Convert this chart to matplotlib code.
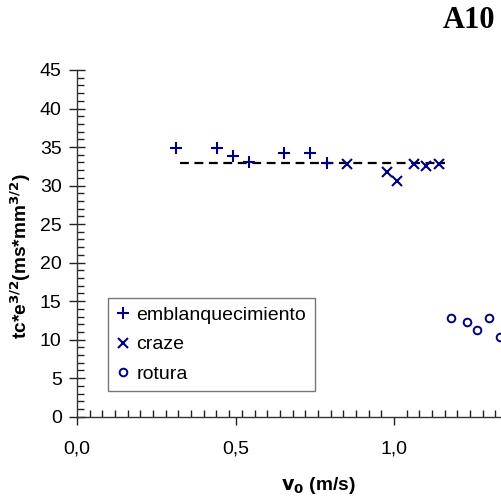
import matplotlib
matplotlib.use("Agg")
import matplotlib.pyplot as plt
from matplotlib.ticker import MultipleLocator, FixedLocator

plt.rcParams['font.family'] = ['Liberation Sans', 'DejaVu Sans']
plt.rcParams['mathtext.default'] = 'regular'

# Data
v_embl = [0.311, 0.443, 0.492, 0.542, 0.653, 0.734, 0.790]
y_embl = [34.9, 34.9, 33.8, 33.1, 34.2, 34.2, 32.9]

v_craze = [0.851, 0.979, 1.010, 1.062, 1.101, 1.142]
y_craze = [32.8, 31.7, 30.6, 32.8, 32.5, 32.8]

v_rot = [1.179, 1.231, 1.261, 1.300, 1.334]
y_rot = [12.85, 12.25, 11.2, 12.85, 10.4]

mean_x = [0.325, 1.16]
mean_y = [32.9, 32.9]

x_major = [0.0, 0.5, 1.0]
x_major_labels = ['0,0', '0,5', '1,0']

navy = '#000080'

fig = plt.figure(figsize=(5.01, 5.03), dpi=100)
xmax = 1.42
ax = fig.add_axes([77/501, 86.3/503, xmax*317/501, 346.7/503])
ax.set_xlim(0, xmax)
ax.set_ylim(0, 45)

ax.plot(mean_x, mean_y, color='black', linestyle=(0, (4, 2.5)), linewidth=1.6, zorder=2)
ax.plot(v_embl, y_embl, linestyle='none', marker='+', markersize=8, markeredgewidth=1.5,
        color=navy, label='emblanquecimiento', zorder=3)
ax.plot(v_craze, y_craze, linestyle='none', marker='x', markersize=7.5, markeredgewidth=1.5,
        color=navy, label='craze', zorder=3)
ax.plot(v_rot, y_rot, linestyle='none', marker='o', markersize=5.5, markeredgewidth=1.4,
        markerfacecolor='none', markeredgecolor=navy, label='rotura', zorder=3)

for s in ['top', 'right']:
    ax.spines[s].set_visible(False)
for s in ['left', 'bottom']:
    ax.spines[s].set_color('#333333')
    ax.spines[s].set_linewidth(1.0)

ax.xaxis.set_major_locator(FixedLocator(x_major))
ax.set_xticklabels(x_major_labels)
ax.xaxis.set_minor_locator(MultipleLocator(0.04))
ax.yaxis.set_major_locator(MultipleLocator(5))
ax.yaxis.set_minor_locator(MultipleLocator(1))

ax.tick_params(axis='y', which='major', direction='inout', length=12, width=1, color='#222222',
               labelsize=14, pad=5)
ax.tick_params(axis='y', which='minor', direction='in', length=5, width=1, color='#222222')
ax.tick_params(axis='x', which='major', direction='out', length=6, width=1, color='#222222',
               labelsize=14, pad=11)
ax.tick_params(axis='x', which='minor', direction='in', length=5, width=1, color='#222222')

fig.text(318/501, 1 - 485/503, r'$\mathbf{v_0}$ (m/s)', ha='center', va='center',
         fontsize=13.8, fontweight='bold')
fig.text(21/501, 1 - 256/503, r'tc*e$^{\mathbf{3/2}}$(ms*mm$^{\mathbf{3/2}}$)', rotation=90,
         ha='center', va='center', fontsize=13.8, fontweight='bold')
fig.text(495/501, 1 - 21/503, 'A10', ha='right', va='center', fontsize=22,
         fontweight='bold', family='Liberation Serif')

leg = fig.legend(loc='upper left', bbox_to_anchor=(108/501, 1 - 298/503),
                 fontsize=14, frameon=True, fancybox=False, handlelength=0.7,
                 handletextpad=0.35, labelspacing=0.62, borderpad=0.42, borderaxespad=0)
leg.get_frame().set_edgecolor('#555555')
leg.get_frame().set_linewidth(1.0)

fig.savefig('out.png', dpi=100)
